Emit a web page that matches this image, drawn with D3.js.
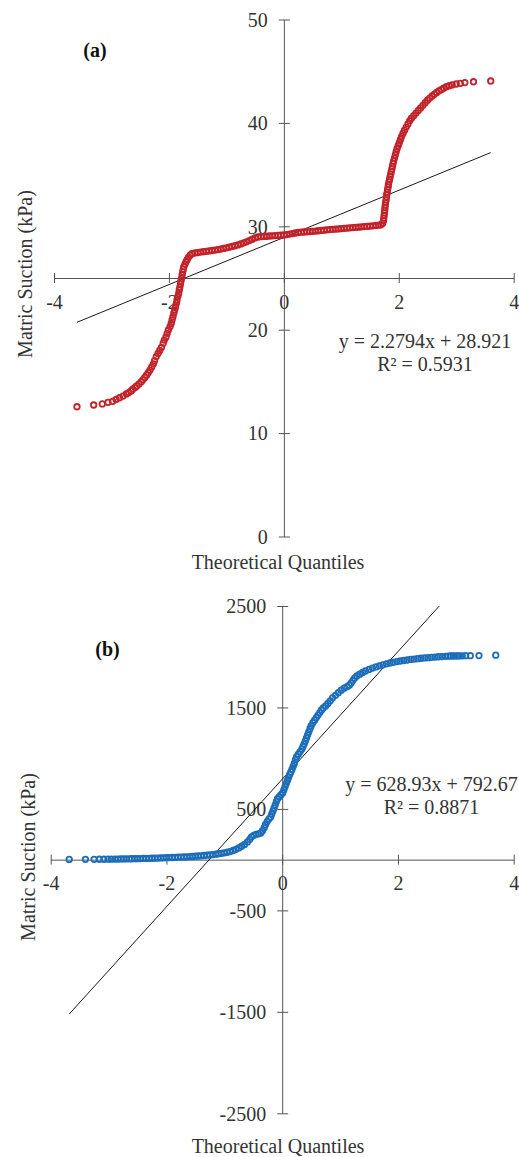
<!DOCTYPE html>
<html>
<head>
<meta charset="utf-8">
<script src="https://cdn.jsdelivr.net/npm/d3@7"></script>
<style>
  body { margin: 0; background: #fff; }
  svg { display: block; }
  text { font-family: 'Liberation Serif', 'Times New Roman', serif; fill: #333; }
</style>
</head>
<body>
<script>
// panel (a): theoretical quantiles and matric suction (kPa)
const qA = [
  -3.60, -3.31, -3.16, -3.06, -2.98, -2.92, -2.86, -2.80, -2.74,
  -2.70, -2.66, -2.63, -2.59, -2.56, -2.52, -2.48, -2.45, -2.42, -2.39, -2.36, -2.33,
  -2.30, -2.27, -2.25, -2.22, -2.19, -2.16, -2.13, -2.10, -2.08, -2.05, -2.03, -2.01,
  -1.98, -1.96, -1.945, -1.93, -1.915, -1.90, -1.885, -1.87, -1.86, -1.845, -1.83, -1.82,
  -1.81, -1.80, -1.79, -1.78, -1.77, -1.76, -1.75, -1.74, -1.72, -1.70, -1.68, -1.66, -1.63, -1.60,
  -1.55, -1.50, -1.45, -1.40, -1.35, -1.30, -1.25, -1.20, -1.15, -1.10, -1.05, -1.00,
  -0.95, -0.90, -0.85, -0.80, -0.75, -0.70, -0.65, -0.60, -0.55, -0.50, -0.45, -0.40,
  -0.35, -0.30, -0.25, -0.20, -0.15, -0.10, -0.05, 0.00, 0.05, 0.10, 0.15, 0.20, 0.25,
  0.30, 0.35, 0.40, 0.45, 0.50, 0.55, 0.60, 0.65, 0.70, 0.75, 0.80, 0.85, 0.90, 0.95,
  1.00, 1.05, 1.10, 1.15, 1.20, 1.25, 1.30, 1.35, 1.40, 1.45, 1.50, 1.55, 1.60, 1.65, 1.69,
  1.72, 1.735, 1.74, 1.745, 1.75, 1.755, 1.76, 1.765, 1.77, 1.78, 1.785, 1.79, 1.80, 1.805,
  1.815, 1.82, 1.83, 1.84, 1.85, 1.86, 1.87, 1.88, 1.89, 1.90, 1.91, 1.925, 1.94, 1.955,
  1.97, 1.99, 2.01, 2.03, 2.05, 2.075, 2.10, 2.13, 2.16, 2.19, 2.22, 2.26, 2.30, 2.34,
  2.38, 2.42, 2.46, 2.50, 2.54, 2.58, 2.62, 2.66, 2.70, 2.74, 2.78,
  2.83, 2.88, 2.93, 3.00, 3.07, 3.15, 3.30, 3.60
];
const sA = [
  12.55, 12.72, 12.82, 12.98, 13.07, 13.25, 13.42, 13.58, 13.78,
  13.92, 14.08, 14.24, 14.42, 14.56, 14.76, 14.97, 15.18, 15.38, 15.6, 15.84, 16.1,
  16.4, 16.7, 17.0, 17.4, 17.7, 18.0, 18.3, 18.7, 19.0, 19.3, 19.65, 19.97,
  20.3, 20.6, 20.95, 21.26, 21.6, 21.9, 22.2, 22.55, 22.85, 23.2, 23.5, 23.84,
  24.1, 24.4, 24.7, 24.97, 25.3, 25.6, 25.85, 26.1, 26.35, 26.6, 26.8, 27.0, 27.2, 27.36,
  27.42, 27.46, 27.5, 27.54, 27.58, 27.62, 27.66, 27.7, 27.75, 27.8, 27.86, 27.92,
  27.98, 28.05, 28.12, 28.2, 28.3, 28.4, 28.5, 28.62, 28.75, 28.88, 28.97, 29.0,
  29.02, 29.04, 29.06, 29.08, 29.1, 29.12, 29.14, 29.16, 29.2, 29.25, 29.3, 29.35, 29.4,
  29.43, 29.45, 29.47, 29.49, 29.51, 29.54, 29.57, 29.6, 29.63, 29.66, 29.68, 29.71, 29.73, 29.75,
  29.78, 29.8, 29.83, 29.85, 29.88, 29.9, 29.92, 29.95, 29.97, 29.99, 30.02, 30.05, 30.08, 30.11, 30.14,
  30.3, 30.55, 30.8, 31.05, 31.3, 31.55, 31.8, 32.05, 32.3, 32.55, 32.8, 33.05, 33.3, 33.55,
  33.8, 34.05, 34.3, 34.55, 34.8, 35.05, 35.3, 35.55, 35.8, 36.05, 36.3, 36.6, 36.9, 37.2,
  37.5, 37.8, 38.1, 38.4, 38.7, 39.0, 39.3, 39.6, 39.9, 40.2, 40.45, 40.7, 40.95, 41.2,
  41.45, 41.7, 41.95, 42.2, 42.4, 42.6, 42.78, 42.95, 43.1, 43.22, 43.35,
  43.5, 43.6, 43.67, 43.76, 43.83, 43.9, 43.98, 44.05
];

// panel (b)
const qB = [
  -3.68, -3.40, -3.25, -3.16, -3.08, -3.01, -2.95, -2.89, -2.84, -2.79, -2.74, -2.69, -2.64,
  -2.60, -2.55, -2.50, -2.45, -2.40, -2.35, -2.30, -2.25, -2.20, -2.15, -2.10, -2.05, -2.00,
  -1.95, -1.90, -1.85, -1.80, -1.75, -1.70, -1.65, -1.60, -1.55, -1.50, -1.45, -1.40, -1.35,
  -1.30, -1.25, -1.20, -1.15, -1.10, -1.05, -1.00, -0.95, -0.90, -0.85, -0.80, -0.75, -0.70,
  -0.65, -0.60, -0.56, -0.53, -0.49, -0.45, -0.41, -0.37, -0.34, -0.31, -0.29, -0.26, -0.23,
  -0.20, -0.18, -0.16, -0.14, -0.12, -0.10, -0.08, -0.05, -0.02, 0.01, 0.03, 0.05, 0.07,
  0.09, 0.11, 0.13, 0.15, 0.17, 0.19, 0.21, 0.23, 0.25, 0.28, 0.31, 0.34, 0.36, 0.38, 0.40,
  0.42, 0.44, 0.46, 0.48, 0.50, 0.53, 0.56, 0.59, 0.62, 0.65, 0.68, 0.71, 0.75, 0.79, 0.83,
  0.87, 0.92, 0.97, 1.02, 1.07, 1.12, 1.16, 1.19, 1.22, 1.25, 1.29, 1.34, 1.39, 1.44, 1.50,
  1.56, 1.62, 1.68, 1.74, 1.80, 1.86, 1.92, 1.98, 2.04, 2.10, 2.16, 2.22, 2.28, 2.34, 2.40,
  2.46, 2.52, 2.58, 2.64, 2.70, 2.76, 2.82,
  2.87, 2.91, 2.95, 2.99, 3.03, 3.06, 3.11, 3.17, 3.25, 3.40, 3.69
];
const sB = [
  2, 3, 3, 4, 4, 5, 5, 6, 6, 7, 7, 8, 8,
  9, 10, 10, 11, 12, 12, 13, 14, 15, 16, 17, 18, 19,
  20, 21, 22, 24, 25, 27, 28, 30, 32, 34, 36, 38, 41,
  44, 47, 50, 54, 58, 62, 67, 73, 80, 90, 102, 116, 132,
  150, 175, 200, 225, 240, 250, 255, 262, 285, 315, 345, 375, 400,
  420, 450, 480, 510, 540, 575, 600, 620, 640, 660, 690, 720, 750,
  780, 810, 840, 865, 890, 920, 950, 985, 1015, 1040, 1065, 1090, 1115, 1140, 1170,
  1200, 1230, 1260, 1290, 1320, 1350, 1375, 1400, 1425, 1450, 1475, 1495, 1515, 1540, 1565,
  1595, 1620, 1645, 1670, 1690, 1705, 1720, 1740, 1765, 1790, 1810, 1828, 1845, 1860, 1875,
  1888, 1900, 1910, 1920, 1930, 1938, 1945, 1952, 1958, 1963, 1968, 1973, 1977, 1981, 1985,
  1988, 1991, 1994, 1997, 2000, 2002, 2004,
  2006, 2007, 2007, 2008, 2008, 2009, 2009, 2010, 2010, 2011, 2015
];

const xTicks = [-4, -2, 0, 2, 4];
const yTicksA = [0, 10, 20, 30, 40, 50];
const yTicksB = [-2500, -1500, -500, 500, 1500, 2500];
const trendA = {slope: 2.2794, intercept: 28.921, eq: 'y = 2.2794x + 28.921', r2: 'R² = 0.5931'};
const trendB = {slope: 628.93, intercept: 792.67, eq: 'y = 628.93x + 792.67', r2: 'R² = 0.8871'};

const width = 519;
const height = 1157;
const axisColor = '#555';

const svg = d3.select('body')
  .append('svg')
    .attr('width', width)
    .attr('height', height);

svg.append('rect').attr('width', width).attr('height', height).attr('fill', '#fff');

function drawPanel(p) {
  const x = d3.scaleLinear().domain([-4, 4]).range([p.left, p.right]);
  const y = d3.scaleLinear().domain(p.yDomain).range([p.bottom, p.top]);
  const g = svg.append('g');

  // y axis through x = 0
  const gy = g.append('g')
      .attr('transform', `translate(${x(0)},0)`)
      .call(d3.axisLeft(y).tickValues(p.yTicks).tickSize(5).tickSizeOuter(0)
        .tickFormat(d => String(d)));
  gy.selectAll('.tick line').attr('x1', 6).attr('stroke', axisColor);
  gy.select('.domain').attr('stroke', axisColor);
  gy.selectAll('.tick text')
      .attr('x', -16)
      .attr('dy', '0.34em')
      .style('font-size', '20px');

  // x axis
  const gx = g.append('g')
      .attr('transform', `translate(0,${y(p.xAxisAt)})`)
      .call(d3.axisBottom(x).tickValues(xTicks).tickSize(5).tickSizeOuter(0)
        .tickFormat(d => String(d)));
  gx.selectAll('.tick line').attr('y1', -5).attr('stroke', axisColor);
  gx.select('.domain').attr('stroke', axisColor);
  gx.selectAll('.tick text')
      .attr('y', p.xLabelY)
      .attr('dy', '0.71em')
      .style('font-size', '20px');
  g.selectAll('.tick text').attr('fill', '#333');
  g.selectAll('g').attr('font-family', null).attr('font-size', null);

  // trendline, clipped at the top of the plot
  const x0 = d3.min(p.q);
  let x1 = d3.max(p.q);
  const yMax = p.yDomain[1];
  if (p.trend.slope * x1 + p.trend.intercept > yMax) {
    x1 = (yMax - p.trend.intercept) / p.trend.slope;
  }
  g.append('line')
      .attr('x1', x(x0))
      .attr('y1', y(p.trend.slope * x0 + p.trend.intercept))
      .attr('x2', x(x1))
      .attr('y2', y(p.trend.slope * x1 + p.trend.intercept))
      .attr('stroke', '#000')
      .attr('stroke-width', 0.9);

  // points
  g.append('g')
    .selectAll('circle')
    .data(d3.range(p.q.length))
    .enter().append('circle')
      .attr('cx', i => x(p.q[i]))
      .attr('cy', i => y(p.s[i]))
      .attr('r', 2.75)
      .attr('fill', 'none')
      .attr('stroke', p.color)
      .attr('stroke-width', 1.8);

  // labels
  g.append('text')
      .attr('x', p.tag[0]).attr('y', p.tag[1])
      .attr('text-anchor', 'middle')
      .style('font-size', '20px').style('font-weight', 'bold').style('fill', '#111')
      .text(p.tagText);

  g.append('text')
      .attr('x', p.eqPos[0]).attr('y', p.eqPos[1])
      .attr('text-anchor', 'middle')
      .style('font-size', '20px')
      .text(p.trend.eq);
  g.append('text')
      .attr('x', p.eqPos[0]).attr('y', p.eqPos[1] + 23)
      .attr('text-anchor', 'middle')
      .style('font-size', '20px')
      .text(p.trend.r2);

  g.append('text')
      .attr('x', 278).attr('y', p.xTitleY)
      .attr('text-anchor', 'middle')
      .style('font-size', '20px')
      .text('Theoretical Quantiles');

  g.append('text')
      .attr('transform', `translate(${p.yTitle[0]},${p.yTitle[1]}) rotate(-90)`)
      .attr('text-anchor', 'middle')
      .attr('dy', '0.35em')
      .style('font-size', '20px')
      .text('Matric Suction (kPa)');
}

drawPanel({
  q: qA, s: sA, color: '#c1232b',
  left: 54, right: 513.7, top: 19.5, bottom: 536.5,
  yDomain: [0, 50], yTicks: yTicksA, xAxisAt: 25, xLabelY: 17,
  trend: trendA, tag: [95, 57], tagText: '(a)', eqPos: [425, 348],
  xTitleY: 569, yTitle: [25, 274]
});

drawPanel({
  q: qB, s: sB, color: '#1c6db9',
  left: 50.7, right: 513.7, top: 606, bottom: 1113.3,
  yDomain: [-2500, 2500], yTicks: yTicksB, xAxisAt: 0, xLabelY: 16,
  trend: trendB, tag: [107.5, 656], tagText: '(b)', eqPos: [431.5, 791],
  xTitleY: 1153, yTitle: [28, 857]
});
</script>
</body>
</html>
